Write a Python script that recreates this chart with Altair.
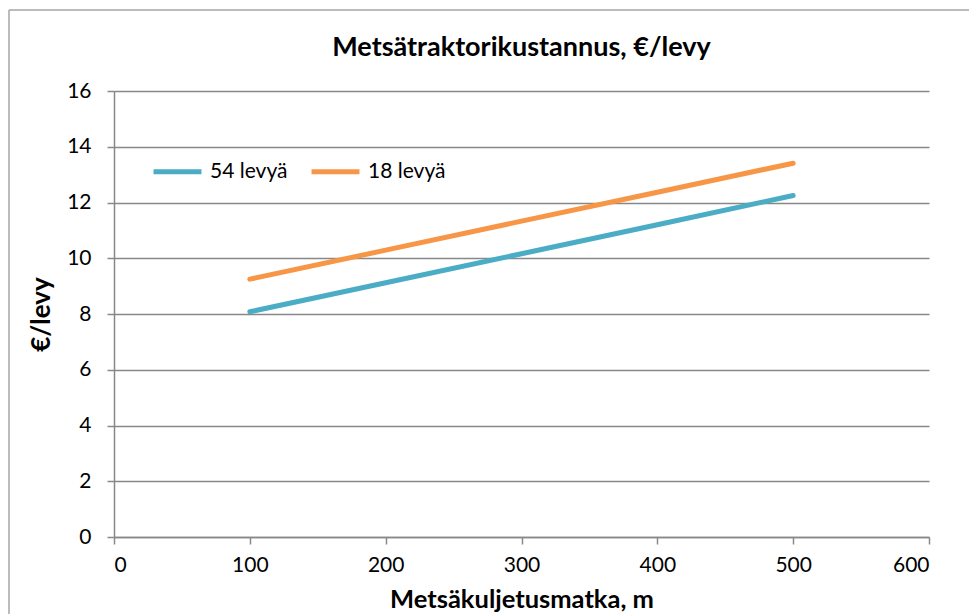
import altair as alt
import pandas as pd

# Data
distance = [100, 200, 300, 400, 500]
cost_54 = [8.08, 9.12, 10.16, 11.20, 12.25]
cost_18 = [9.25, 10.29, 11.33, 12.37, 13.41]
series_names = ["54 levyä", "18 levyä"]
series_colors = ["#4BACC6", "#F79646"]
x_ticks = [0, 100, 200, 300, 400, 500, 600]
y_ticks = [0, 2, 4, 6, 8, 10, 12, 14, 16]

rows = []
for d, v in zip(distance, cost_54):
    rows.append({"matka": d, "kustannus": v, "sarja": series_names[0]})
for d, v in zip(distance, cost_18):
    rows.append({"matka": d, "kustannus": v, "sarja": series_names[1]})
df = pd.DataFrame(rows)

FONT = "Lato"
W, H = 815, 446

lines = alt.Chart(df).mark_line(strokeWidth=5, strokeCap="round", strokeJoin="round").encode(
    x=alt.X("matka:Q",
            scale=alt.Scale(domain=[0, 600], nice=False),
            axis=alt.Axis(values=x_ticks, title="Metsäkuljetusmatka, m", grid=False,
                          tickSize=7, labelPadding=10, titlePadding=12, titleFontSize=25.5,
                          domainColor="#888888", tickColor="#888888", domainWidth=1.5, tickWidth=1.5)),
    y=alt.Y("kustannus:Q",
            scale=alt.Scale(domain=[0, 16], nice=False),
            axis=alt.Axis(values=y_ticks, title="€/levy", grid=True,
                          gridColor="#888888", gridWidth=1.5,
                          tickSize=7, labelPadding=16, titlePadding=12, titleFontSize=26,
                          domainColor="#888888", tickColor="#888888", domainWidth=1.5, tickWidth=1.5)),
    color=alt.Color("sarja:N",
                    scale=alt.Scale(domain=series_names, range=series_colors),
                    legend=alt.Legend(title=None, orient="none", direction="horizontal",
                                      legendX=37, legendY=54,
                                      symbolType="stroke", symbolStrokeWidth=5, symbolSize=2300,
                                      labelFont=FONT, labelFontSize=21, labelColor="#000000",
                                      columnPadding=13, labelOffset=6)),
)

frame_df = pd.DataFrame({"k": [0]})
frame_top = alt.Chart(frame_df).mark_rule(color="#a6a6a6", strokeWidth=1.5).encode(
    x=alt.value(-105), x2=alt.value(W + 200), y=alt.value(-81)
)
frame_left = alt.Chart(frame_df).mark_rule(color="#a6a6a6", strokeWidth=1.5).encode(
    x=alt.value(-105), y=alt.value(-81), y2=alt.value(H + 200)
)

chart = alt.layer(frame_top, frame_left, lines).properties(
    width=W, height=H,
    title=alt.Title("Metsätraktorikustannus, €/levy", font=FONT, fontSize=27, fontWeight="bold",
                    color="#000000", anchor="middle", offset=0, dy=53),
    autosize=alt.AutoSizeParams(type="none"),
    padding={"left": 106, "top": 83, "right": 40, "bottom": 90},
).configure(
    background="white",
).configure_view(
    stroke=None,
).configure_axis(
    labelFont=FONT, labelFontSize=21, labelColor="#000000",
    titleFont=FONT, titleFontWeight="bold", titleColor="#000000",
)

chart.save("out.html", embed_options={"renderer": "svg", "actions": False})
